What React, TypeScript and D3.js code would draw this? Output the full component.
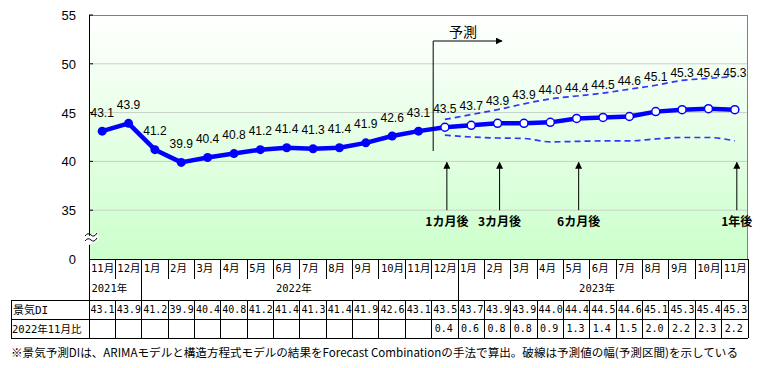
import * as d3 from "d3";

const W = 764;
const H = 368;

// 月ラベル（2021年11月〜2023年11月）
const months = [
  "11月", "12月", "1月", "2月", "3月", "4月", "5月", "6月", "7月", "8月", "9月", "10月",
  "11月", "12月", "1月", "2月", "3月", "4月", "5月", "6月", "7月", "8月", "9月", "10月", "11月",
];
const years = [
  { label: "2021年", from: 0, to: 2 },
  { label: "2022年", from: 2, to: 14 },
  { label: "2023年", from: 14, to: 25 },
];
// 景気DI（実績＋予測）
const di = [
  43.1, 43.9, 41.2, 39.9, 40.4, 40.8, 41.2, 41.4, 41.3, 41.4, 41.9, 42.6, 43.1,
  43.5, 43.7, 43.9, 43.9, 44.0, 44.4, 44.5, 44.6, 45.1, 45.3, 45.4, 45.3,
];
const forecastStart = 13;
// 2022年11月比（予測期間のみ）
const ratio = [0.4, 0.6, 0.8, 0.8, 0.9, 1.3, 1.4, 1.5, 2.0, 2.2, 2.3, 2.2];
// 予測区間
const upper = [44.3, 44.8, 45.3, 45.9, 46.4, 46.7, 47.0, 47.4, 47.8, 48.3, 48.5, 48.7];
const lower = [42.7, 42.5, 42.4, 42.35, 42.0, 42.05, 42.1, 42.1, 42.3, 42.45, 42.45, 42.1];
const yTicks = [35, 40, 45, 50, 55];
const arrows = [
  { i: 13, label: "1カ月後" },
  { i: 15, label: "3カ月後" },
  { i: 18, label: "6カ月後" },
  { i: 24, label: "1年後" },
];
const note =
  "※景気予測DIは、ARIMAモデルと構造方程式モデルの結果をForecast Combinationの手法で算出。破線は予測値の幅(予測区間)を示している";

const left = 89;
const right = 748;
const top = 15;
const bottom = 259;
const tableLeft = 11;
const rowYear = 279;
const rowDi = 300;
const rowRatio = 319;
const tableBottom = 338;

const sans = "'Liberation Sans', Arial, sans-serif";
const ja = "'Noto Sans CJK JP', sans-serif";
const mono = "'DejaVu Sans Mono', 'Noto Sans CJK JP', monospace";
const blue = "#0000ff";

export default function App() {
  const idx = d3.range(months.length);
  const x = d3.scaleBand<number>().domain(idx).range([left, right]);
  const bw = x.bandwidth();
  const cx = (i: number) => (x(i) as number) + bw / 2;
  const y = d3.scaleLinear().domain([30, 55]).range([bottom, top]);

  const line = d3
    .line<number>()
    .x((_, i) => cx(i))
    .y((d) => y(d));
  const band = d3
    .line<number>()
    .x((_, i) => cx(i + forecastStart))
    .y((d) => y(d))
    .curve(d3.curveMonotoneX);

  // ラベル位置: 予測期間は上側の破線より上に置く
  const labelY = (i: number) => {
    let v = y(di[i]) - 19;
    if (i >= forecastStart) {
      v = Math.min(v, y(upper[i - forecastStart]) - 9);
      v = Math.max(v, 72.5);
    }
    return v;
  };

  const splitX = x(forecastStart) as number;

  return (
    <svg
      width={W}
      height={H}
      style={{ position: "absolute", left: 0, top: 0, background: "#fff" }}
    >
      <defs>
        <linearGradient id="bg" x1="0" y1="0" x2="0" y2="1">
          <stop offset="0" stopColor="#ffffff" />
          <stop offset="1" stopColor="#ccffcc" />
        </linearGradient>
        <marker id="ah" viewBox="0 0 10 10" refX="9" refY="5" markerWidth="7" markerHeight="7" orient="auto">
          <path d="M0,0 L10,5 L0,10 z" fill="#000" />
        </marker>
      </defs>

      <rect x={left} y={top} width={right - left} height={bottom - top} fill="url(#bg)" />

      {yTicks.slice(0, -1).map((t) => (
        <line key={t} x1={left} x2={right} y1={y(t)} y2={y(t)} stroke="#c8d0c8" />
      ))}
      <line x1={left} x2={right} y1={top + 0.5} y2={top + 0.5} stroke="#808080" />
      <line x1={right - 0.5} x2={right - 0.5} y1={top} y2={bottom} stroke="#808080" />
      <line x1={left + 0.5} x2={left + 0.5} y1={top} y2={bottom} stroke="#000" />
      {yTicks.map((t) => (
        <line key={t} x1={left} x2={left + 4} y1={y(t)} y2={y(t)} stroke="#000" />
      ))}

      {yTicks.map((t) => (
        <text key={t} x={76} y={y(t) + 5} textAnchor="end" fontFamily={sans} fontSize={13}>
          {t}
        </text>
      ))}
      <text x={76} y={bottom + 5} textAnchor="end" fontFamily={sans} fontSize={13}>
        0
      </text>

      {/* 軸の省略記号 */}
      <path d="M85,238 L97,232 L99,240 L87,246 z" fill="#fff" />
      <path d="M85,236 q3,-4 6,-1 t6,-2" fill="none" stroke="#000" />
      <path d="M85,241 q3,-4 6,-1 t6,-2" fill="none" stroke="#000" />

      {/* 予測区間 */}
      <path d={band(upper) ?? ""} fill="none" stroke="#3434ff" strokeWidth={1.7} strokeDasharray="6,4" />
      <path d={band(lower) ?? ""} fill="none" stroke="#3434ff" strokeWidth={1.7} strokeDasharray="6,4" />

      <path d={line(di) ?? ""} fill="none" stroke={blue} strokeWidth={4.5} strokeLinejoin="round" />
      {di.map((d, i) =>
        i < forecastStart ? (
          <circle key={i} cx={cx(i)} cy={y(d)} r={4.5} fill={blue} />
        ) : (
          <circle key={i} cx={cx(i)} cy={y(d)} r={4} fill="#fff" stroke={blue} strokeWidth={1.5} />
        )
      )}
      {di.map((d, i) => (
        <text key={i} x={cx(i)} y={labelY(i) + 4.5} textAnchor="middle" fontFamily={sans} fontSize={12}>
          {d.toFixed(1)}
        </text>
      ))}

      {/* 予測開始 */}
      <line x1={splitX + 1.5} x2={splitX + 1.5} y1={151} y2={41} stroke="#000" />
      <line x1={splitX + 1.5} x2={502} y1={41} y2={41} stroke="#000" markerEnd="url(#ah)" />
      <text x={463} y={37} textAnchor="middle" fontFamily={ja} fontSize={14}>
        予測
      </text>

      {arrows.map((a) => (
        <g key={a.label}>
          <line
            x1={cx(a.i) + 2}
            x2={cx(a.i) + 2}
            y1={y(35)}
            y2={y(40) + 1}
            stroke="#000"
            markerEnd="url(#ah)"
          />
          <text x={cx(a.i) + 2} y={226} textAnchor="middle" fontFamily={ja} fontSize={12} fontWeight="bold">
            {a.label}
          </text>
        </g>
      ))}

      {/* データ表 */}
      <g stroke="#000" strokeWidth={1} shapeRendering="crispEdges">
        <line x1={left} x2={right} y1={bottom} y2={bottom} />
        <line x1={tableLeft} x2={right} y1={rowDi} y2={rowDi} />
        <line x1={tableLeft} x2={right} y1={rowRatio} y2={rowRatio} />
        <line x1={tableLeft} x2={right} y1={tableBottom} y2={tableBottom} />
        <line x1={tableLeft} x2={tableLeft} y1={rowDi} y2={tableBottom} />
        <line x1={left} x2={left} y1={bottom} y2={tableBottom} />
        <line x1={right} x2={right} y1={bottom} y2={tableBottom} />
        {idx.slice(1).map((i) => (
          <g key={i}>
            <line x1={x(i)} x2={x(i)} y1={bottom} y2={rowYear} />
            <line x1={x(i)} x2={x(i)} y1={rowDi} y2={tableBottom} />
          </g>
        ))}
        {years.slice(1).map((yr) => (
          <line key={yr.label} x1={x(yr.from)} x2={x(yr.from)} y1={rowYear} y2={rowDi} />
        ))}
      </g>

      {months.map((m, i) => (
        <text key={i} x={(x(i) as number) + 2} y={272} fontFamily={mono} fontSize={10.5}>
          {m}
        </text>
      ))}
      {years.map((yr) => {
        const x0 = x(yr.from) as number;
        const x1 = yr.to < months.length ? (x(yr.to) as number) : right;
        return (
          <text key={yr.label} x={(x0 + x1) / 2 - 6} y={292} textAnchor="middle" fontFamily={mono} fontSize={10.5}>
            {yr.label}
          </text>
        );
      })}
      <text x={tableLeft + 2} y={314} fontFamily={mono} fontSize={11}>
        景気DI
      </text>
      <text x={tableLeft + 1} y={333} fontFamily={mono} fontSize={10.5}>
        2022年11月比
      </text>
      {di.map((d, i) => (
        <text key={i} x={(x(i) as number) + 1.5} y={313} fontFamily={mono} fontSize={10}>
          {d.toFixed(1)}
        </text>
      ))}
      {ratio.map((r, k) => (
        <text key={k} x={(x(k + forecastStart) as number) + 3} y={332} fontFamily={mono} fontSize={10}>
          {r.toFixed(1)}
        </text>
      ))}

      <text x={tableLeft} y={357} fontFamily={ja} fontSize={11.5} textLength={727} lengthAdjust="spacingAndGlyphs">
        {note}
      </text>
    </svg>
  );
}
